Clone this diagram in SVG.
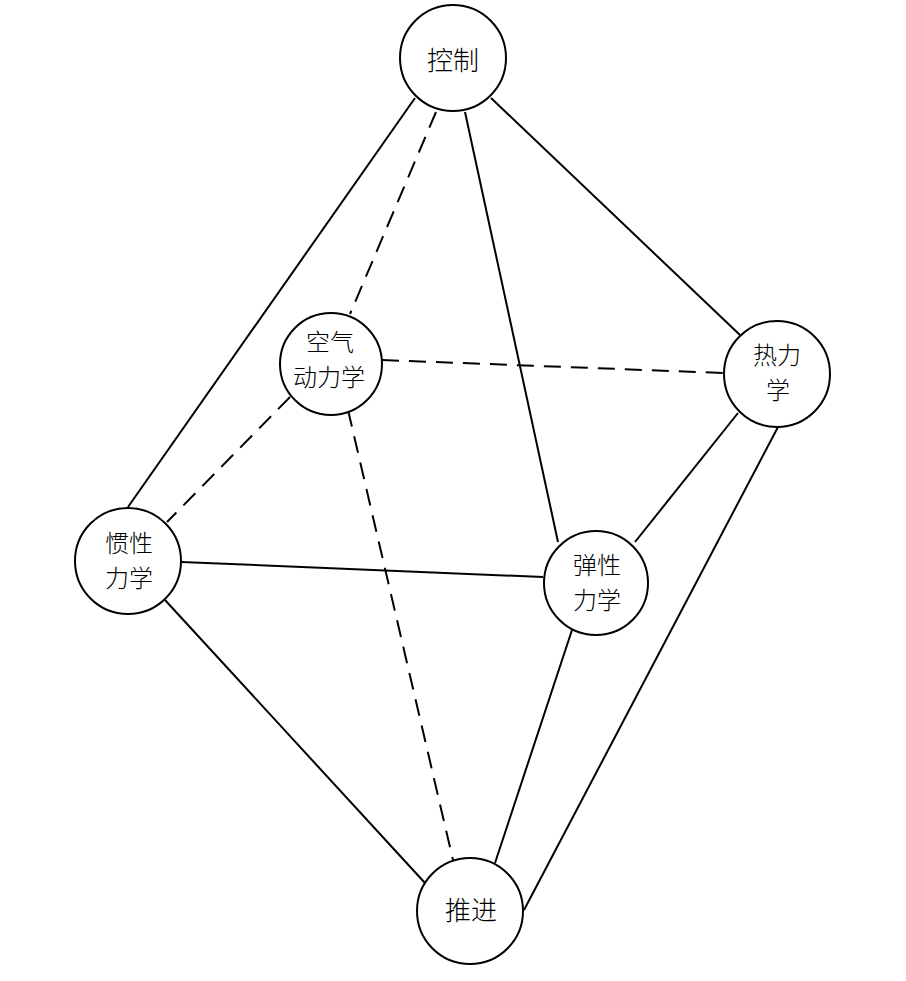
<svg xmlns="http://www.w3.org/2000/svg" width="906" height="981" viewBox="0 0 906 981">
<style>
.n{fill:#fff;stroke:#000;stroke-width:2}
.t{font-family:"Noto Sans CJK SC","Noto Sans CJK JP",sans-serif;font-size:24px;font-weight:300;fill:#000;text-anchor:middle}
.b{font-size:26px}
.s{stroke:#000;stroke-width:2;fill:none}
.d{stroke:#000;stroke-width:2;fill:none;stroke-dasharray:17 10}
</style>
<rect width="906" height="981" fill="#fff"/>
<g id="connectors">
<line class="s" x1="415" y1="98" x2="128" y2="507"/>
<line class="s" x1="465" y1="112" x2="558" y2="542"/>
<line class="s" x1="491" y1="98" x2="740" y2="335"/>
<line class="s" x1="181" y1="562" x2="543" y2="577"/>
<line class="s" x1="165" y1="600" x2="425" y2="883"/>
<line class="s" x1="635" y1="542" x2="738" y2="413"/>
<line class="s" x1="572" y1="630" x2="495" y2="863"/>
<line class="s" x1="778" y1="427" x2="524" y2="910"/>
<line class="d" x1="436" y1="112" x2="350" y2="314"/>
<line class="d" x1="382" y1="360" x2="724" y2="373"/>
<line class="d" x1="290" y1="397" x2="167" y2="522"/>
<line class="d" x1="348" y1="410" x2="453" y2="860"/>
</g>
<g id="kongzhi"><circle class="n" cx="453" cy="58" r="53"/><text class="t b" x="453" y="70">控制</text></g>
<g id="kongqi"><circle class="n" cx="331" cy="364" r="51"/><text class="t" x="330" y="351">空气</text><text class="t" x="329" y="386">动力学</text></g>
<g id="reli"><circle class="n" cx="777" cy="374" r="53"/><text class="t" x="777" y="364">热力</text><text class="t" x="778" y="399">学</text></g>
<g id="guanxing"><circle class="n" cx="128" cy="561" r="53"/><text class="t" x="129" y="552">惯性</text><text class="t" x="129" y="587">力学</text></g>
<g id="tanxing"><circle class="n" cx="596" cy="583" r="52"/><text class="t" x="597" y="574">弹性</text><text class="t" x="597" y="609">力学</text></g>
<g id="tuijin"><circle class="n" cx="470" cy="911" r="53"/><text class="t b" x="471" y="920">推进</text></g>
</svg>
